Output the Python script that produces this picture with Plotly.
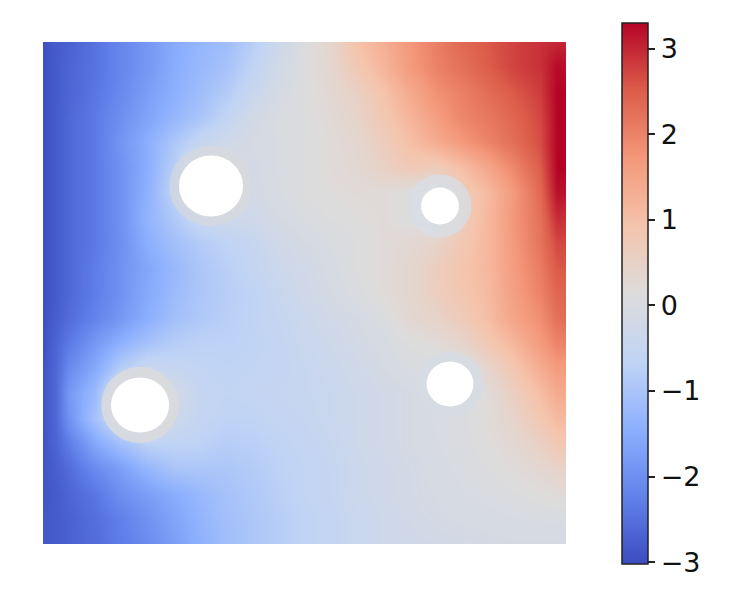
import plotly.graph_objects as go

x_grid = [0, .025, .05, .1, .15, .2, .25, .3, .35, .4, .45, .5, .55, .6, .65, .7, .75, .8, .85, .9, .95, .983, 1]
y_grid = [1, .95, .9, .85, .8, .75, .7, .65, .6, .55, .5, .45, .4, .35, .3, .25, .2, .15, .1, .05, 0]

field = [
 [-2.95,-2.8,-2.7,-2.45,-2.15,-1.85,-1.55,-1.3,-1.15,-.8,-.35,.1,.4,.95,1.3,1.7,2.05,2.35,2.55,2.75,2.9,3.0,3.0],
 [-2.95,-2.8,-2.65,-2.45,-2.15,-1.85,-1.5,-1.25,-1.05,-.65,-.2,.1,.35,.8,1.2,1.65,2.0,2.25,2.5,2.75,2.9,3.25,3.2],
 [-2.95,-2.8,-2.65,-2.4,-2.1,-1.75,-1.45,-1.15,-.85,-.45,-.1,.1,.3,.55,.95,1.4,1.8,2.05,2.3,2.55,2.8,3.3,3.3],
 [-2.95,-2.8,-2.6,-2.35,-2.0,-1.65,-1.3,-1.0,-.6,-.2,.02,.1,.25,.45,.8,1.2,1.6,1.95,2.15,2.4,2.7,3.3,3.3],
 [-2.95,-2.8,-2.6,-2.35,-1.9,-1.45,-.95,-.5,-.25,-.08,0,.1,.2,.35,.65,1.0,1.35,1.7,2.0,2.3,2.65,3.3,3.3],
 [-2.95,-2.8,-2.6,-2.35,-1.95,-1.45,-.75,.1,.1,-.15,0,.1,.2,.3,.5,.75,.65,1.0,1.45,1.95,2.5,3.3,3.3],
 [-2.95,-2.8,-2.6,-2.35,-1.95,-1.4,-.65,.1,.1,-.15,-.02,.1,.15,.2,.2,.1,0,.7,1.1,1.7,2.35,3.2,3.15],
 [-2.95,-2.8,-2.6,-2.35,-1.95,-1.35,-.9,-.45,-.3,-.25,-.1,.02,.1,.15,.2,.1,0,.65,1.15,1.75,2.25,2.95,2.9],
 [-2.95,-2.8,-2.6,-2.35,-2.0,-1.45,-1.1,-.85,-.65,-.5,-.25,-.1,0,.1,.2,.3,.45,.8,1.15,1.7,2.2,2.7,2.7],
 [-2.95,-2.8,-2.6,-2.3,-1.95,-1.6,-1.25,-.95,-.75,-.55,-.35,-.2,-.05,.1,.2,.35,.6,.9,1.15,1.65,2.1,2.55,2.55],
 [-2.95,-2.8,-2.6,-2.3,-1.95,-1.55,-1.2,-.95,-.8,-.65,-.45,-.25,-.1,.05,.2,.35,.6,.85,1.1,1.6,2.0,2.4,2.4],
 [-2.95,-2.75,-2.55,-2.2,-1.85,-1.45,-1.1,-.9,-.75,-.65,-.5,-.35,-.2,-.1,.05,.3,.45,.7,1.05,1.5,1.85,2.25,2.3],
 [-2.95,-2.65,-2.35,-1.85,-1.4,-1.05,-.8,-.7,-.7,-.65,-.55,-.4,-.3,-.15,-.05,.1,.2,.4,.8,1.2,1.65,2.0,2.0],
 [-2.9,-2.6,-2.1,-1.55,-.8,-.4,-.5,-.6,-.65,-.6,-.55,-.45,-.35,-.25,-.1,.02,.02,.02,.4,.85,1.35,1.65,1.65],
 [-2.9,-2.6,-1.85,-1.2,.1,.1,-.15,-.5,-.6,-.55,-.5,-.45,-.4,-.3,-.2,-.1,0,.05,.2,.6,1.05,1.4,1.4],
 [-2.9,-2.6,-1.95,-1.05,-.2,.1,-.3,-.55,-.65,-.65,-.55,-.5,-.4,-.3,-.2,-.1,0,.05,.2,.45,.8,1.1,1.1],
 [-2.9,-2.65,-2.3,-1.6,-1.1,-.7,-.65,-.7,-.8,-.75,-.65,-.55,-.45,-.3,-.2,-.1,-.02,.05,.15,.3,.55,.8,.8],
 [-2.9,-2.75,-2.55,-2.1,-1.75,-1.3,-1.0,-.95,-.95,-.85,-.7,-.6,-.5,-.35,-.25,-.15,-.05,.02,.08,.18,.3,.45,.45],
 [-2.9,-2.8,-2.65,-2.4,-2.0,-1.75,-1.5,-1.25,-1.05,-.9,-.75,-.6,-.5,-.35,-.25,-.15,-.08,-.02,.02,.08,.15,.2,.2],
 [-2.85,-2.8,-2.7,-2.5,-2.25,-1.95,-1.65,-1.35,-1.1,-.95,-.8,-.65,-.55,-.4,-.3,-.2,-.12,-.08,-.05,-.02,0,0,0],
 [-2.85,-2.8,-2.7,-2.55,-2.3,-2.05,-1.75,-1.4,-1.15,-.95,-.8,-.65,-.55,-.4,-.3,-.25,-.2,-.15,-.12,-.1,-.1,-.1,-.1],
]

tick_values = [-3, -2, -1, 0, 1, 2, 3]
hole_x = [.3212, .7591, .1855, .7782]
hole_y = [.7131, .6733, .2769, .3187]
hole_rx = [.0612, .0363, .0555, .0449]
hole_ry = [.0608, .0368, .0548, .0448]
rim_rx = [.0800, .0600, .0740, .0640]
rim_ry = [.0800, .0630, .0760, .0660]
rim_color = ["#d9d9db", "#d8dde5", "#dadadc", "#d6dce4"]
rim_alpha = [.6, .8, .85, .8]

coolwarm = [
    [0.0, "#3b4cc0"], [0.125, "#6282ea"], [0.25, "#8db0fe"], [0.375, "#c0d4f5"],
    [0.5, "#dddcdc"], [0.625, "#f5c4ac"], [0.75, "#f4987a"], [0.875, "#dc5d4a"], [1.0, "#b40426"],
]

fig = go.Figure(go.Heatmap(
    x=x_grid, y=y_grid, z=field, zmin=-3.02, zmax=3.3, zsmooth="best",
    colorscale=coolwarm, hoverinfo="skip",
    colorbar=dict(
        x=1.107, xanchor="left", xpad=0,
        y=1.038, yanchor="top", ypad=0,
        len=541, lenmode="pixels", thickness=26, thicknessmode="pixels",
        outlinewidth=1.5, outlinecolor="#222222",
        tickmode="array", tickvals=tick_values,
        ticks="outside", ticklen=7, tickwidth=1.5, tickcolor="#222222",
        tickfont=dict(family="DejaVu Sans", size=27, color="#111111"),
    ),
))

shapes = []
for cx, cy, rx, ry, c, a in zip(hole_x, hole_y, rim_rx, rim_ry, rim_color, rim_alpha):
    shapes.append(dict(type="circle", xref="x", yref="y", x0=cx - rx, x1=cx + rx,
                       y0=cy - ry, y1=cy + ry, fillcolor=c, line_width=0, opacity=a))
for cx, cy, rx, ry in zip(hole_x, hole_y, hole_rx, hole_ry):
    shapes.append(dict(type="circle", xref="x", yref="y", x0=cx - rx, x1=cx + rx,
                       y0=cy - ry, y1=cy + ry, fillcolor="white", line_width=0))

fig.update_layout(
    width=734, height=584,
    margin=dict(l=35, r=176, t=34, b=48, autoexpand=False),
    paper_bgcolor="white", plot_bgcolor="white",
    xaxis=dict(visible=False, range=[0, 1]),
    yaxis=dict(visible=False, range=[0, 1]),
    shapes=shapes,
)
fig.write_html("out.html")
